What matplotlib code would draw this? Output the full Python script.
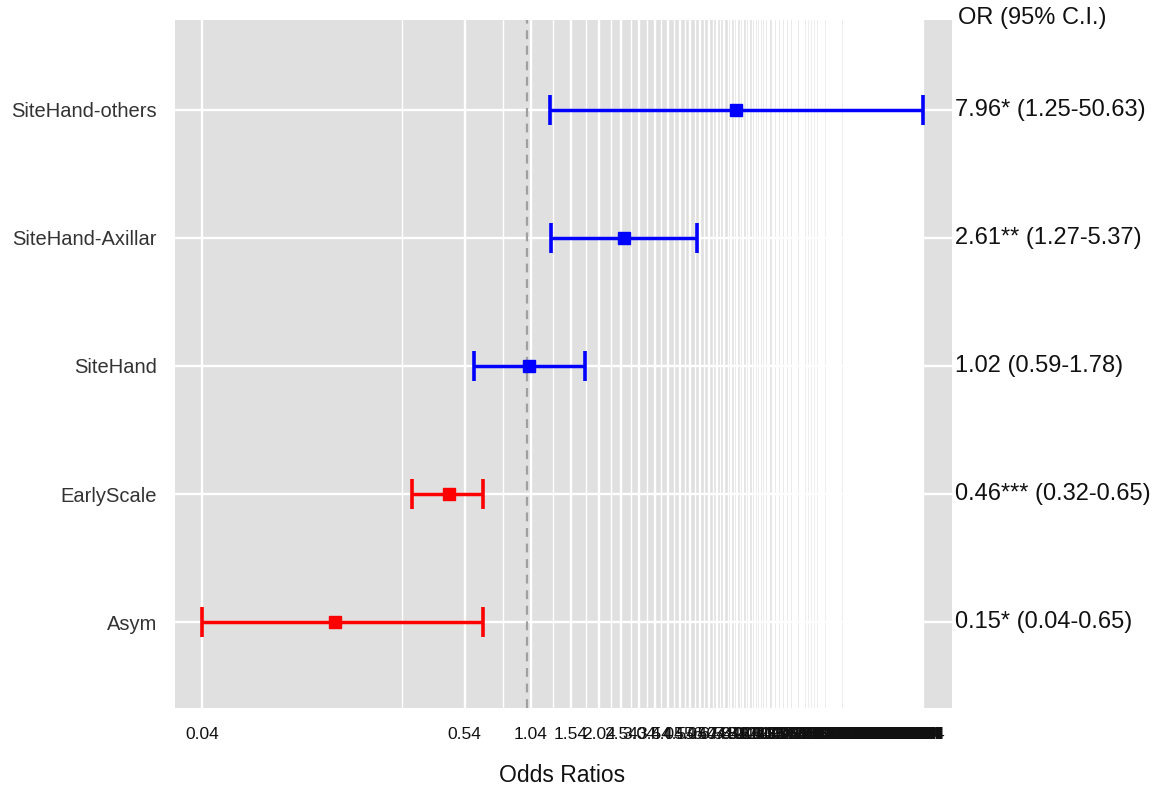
import numpy as np
import matplotlib
matplotlib.use("Agg")
import matplotlib.pyplot as plt
from matplotlib.transforms import blended_transform_factory

plt.rcParams["font.family"] = ["Liberation Sans", "DejaVu Sans"]

# forest plot data (top row first)
terms = ["SiteHand-others", "SiteHand-Axillar", "SiteHand", "EarlyScale", "Asym"]
odds = [7.96, 2.61, 1.02, 0.46, 0.15]
ci_low = [1.25, 1.27, 0.59, 0.32, 0.04]
ci_high = [50.63, 5.37, 1.78, 0.65, 0.65]
ci_text = ["7.96* (1.25-50.63)", "2.61** (1.27-5.37)", "1.02 (0.59-1.78)",
           "0.46*** (0.32-0.65)", "0.15* (0.04-0.65)"]
bar_colors = ["#0000FF", "#0000FF", "#0000FF", "#FF0000", "#FF0000"]

# breaks every 0.5 starting at the lowest bound
major_breaks = np.arange(0.04, 50.63, 0.5)
minor_breaks = (major_breaks[:-1] + major_breaks[1:]) / 2

fig = plt.figure(figsize=(11.63, 7.94), dpi=100)
ax = fig.add_axes([175 / 1163, 86 / 794, 777 / 1163, 688 / 794])
ax.set_facecolor("#E0E0E0")
for s in ax.spines.values():
    s.set_visible(False)

ax.set_xscale("log")
lo, hi = np.log10(0.04), np.log10(50.63)
span = hi - lo
ax.set_xlim(10 ** (lo - 0.0375 * span), 10 ** (hi + 0.040 * span))

ypos = np.arange(len(terms))[::-1] + 1
ax.set_ylim(0.33, 5.7)

ax.set_xticks(major_breaks)
ax.set_xticklabels(["%.2f" % v for v in major_breaks])
ax.set_xticks(minor_breaks, minor=True)
ax.set_xticklabels([], minor=True)
ax.set_yticks(ypos)
ax.set_yticklabels(terms)
ax.tick_params(axis="both", which="both", length=0)
ax.tick_params(axis="x", pad=14, labelsize=12.5, labelcolor="#111111")
ax.tick_params(axis="y", pad=13, labelsize=14.5, labelcolor="#333333")

ax.grid(which="major", axis="both", color="white", lw=1.7)
ax.grid(which="minor", axis="x", color="white", lw=1.0)
ax.set_axisbelow(True)

ax.axvline(1, color="#A0A0A0", lw=1.6, ls=(0, (4, 3)), zorder=2)

for y, o, l, h, c in zip(ypos, odds, ci_low, ci_high, bar_colors):
    ax.errorbar(o, y, xerr=[[o - l], [h - o]], fmt="s", color=c, ms=8.5,
                lw=2.5, capsize=10.5, capthick=2.6, zorder=3)

# right-hand column with OR and CI
tr = blended_transform_factory(fig.transFigure, ax.transData)
for y, t in zip(ypos, ci_text):
    ax.text(955 / 1163, y, t, transform=tr, ha="left", va="center",
            fontsize=17, color="#111111")
fig.text(958 / 1163, 1 - 18 / 794, "OR (95% C.I.)", ha="left", va="center",
         fontsize=17, color="#111111")

fig.text(562 / 1163, 1 - 776 / 794, "Odds Ratios", ha="center", va="center",
         fontsize=16.5, color="#111111")

fig.savefig("out.png", dpi=100)
